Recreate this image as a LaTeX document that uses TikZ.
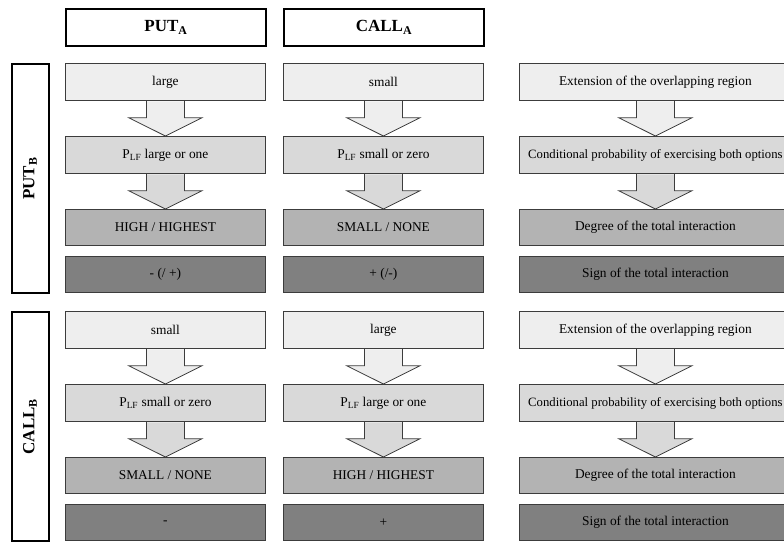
\documentclass[tikz,border=0pt]{standalone}
\usepackage{fontspec}
\setmainfont{Liberation Serif}
\usetikzlibrary{calc}
\definecolor{lvone}{HTML}{EEEEEE}
\definecolor{lvtwo}{HTML}{D9D9D9}
\definecolor{lvthree}{HTML}{B3B3B3}
\definecolor{lvfour}{HTML}{808080}
\definecolor{edgegray}{HTML}{3C3C3C}
\tikzset{
  cell/.style={draw=edgegray, line width=0.8pt, minimum height=#1, inner sep=0pt,
    font=\fontsize{13.4}{15}\selectfont, anchor=north west},
  cellone/.style={cell=37pt, fill=lvone},
  celltwo/.style={cell=37pt, fill=lvtwo},
  cellthree/.style={cell=36pt, fill=lvthree},
  cellfour/.style={cell=36pt, fill=lvfour},
  narrowcol/.style={minimum width=200pt},
  widecol/.style={minimum width=272pt},
  longtext/.style={font=\fontsize{12.7}{15}\selectfont},
  headbox/.style={draw=black, line width=2pt, minimum width=200pt, minimum height=37pt,
    inner sep=0pt, anchor=north west, font=\fontsize{17}{19}\selectfont\bfseries},
  sidebox/.style={draw=black, line width=2pt, minimum width=37pt, inner sep=0pt,
    anchor=north west},
  sidelabel/.style={rotate=90, font=\fontsize{17}{19}\selectfont\bfseries},
  flowedge/.style={draw=edgegray, line width=0.8pt, line join=miter},
}
% block arrow from the bottom of one cell to the top of the next
\newcommand{\flowarr}[3]{%
  \fill[#3] ($(#1.south)+(-19,0.5)$) -- ($(#1.south)+(-19,17)$) -- ($(#1.south)+(-36.5,17)$)
    -- (#2.north) -- ($(#1.south)+(36.5,17)$) -- ($(#1.south)+(19,17)$) -- ($(#1.south)+(19,0.5)$) -- cycle;
  \draw[flowedge] ($(#1.south)+(-19,0)$) -- ($(#1.south)+(-19,17)$) -- ($(#1.south)+(-36.5,17)$)
    -- (#2.north) -- ($(#1.south)+(36.5,17)$) -- ($(#1.south)+(19,17)$) -- ($(#1.south)+(19,0)$);
}
\begin{document}
\begin{tikzpicture}[x=1pt, y=-1pt]
\useasboundingbox (0,0) rectangle (784,542);
\begin{scope}
\clip (0,0) rectangle (784,542);

% column headings
\node[headbox] (hput) at (65,8) {PUT\textsubscript{A}};
\node[headbox] (hcall) at (283,8) {CALL\textsubscript{A}};

% row headings
\node[sidebox, minimum height=229pt] (sput) at (10.5,63) {};
\node[sidelabel] at (sput.center) {PUT\textsubscript{B}};
\node[sidebox, minimum height=229pt] (scall) at (10.5,311) {};
\node[sidelabel] at (scall.center) {CALL\textsubscript{B}};

% upper block: PUT_B
\node[cellone, narrowcol] (a1) at (65,63) {large};
\node[celltwo, narrowcol] (a2) at (65,136) {P\textsubscript{LF} large or one};
\node[cellthree, narrowcol] (a3) at (65,209) {HIGH / HIGHEST};
\node[cellfour, narrowcol] (a4) at (65,256) {- (/ +)};

\node[cellone, narrowcol] (b1) at (283,63) {small};
\node[celltwo, narrowcol] (b2) at (283,136) {P\textsubscript{LF} small or zero};
\node[cellthree, narrowcol] (b3) at (283,209) {SMALL / NONE};
\node[cellfour, narrowcol] (b4) at (283,256) {+ (/-)};

\node[cellone, widecol] (c1) at (519,63) {Extension of the overlapping region};
\node[celltwo, widecol, longtext] (c2) at (519,136) {Conditional probability of exercising both options};
\node[cellthree, widecol] (c3) at (519,209) {Degree of the total interaction};
\node[cellfour, widecol] (c4) at (519,256) {Sign of the total interaction};

% lower block: CALL_B
\node[cellone, narrowcol] (d1) at (65,311) {small};
\node[celltwo, narrowcol] (d2) at (65,384) {P\textsubscript{LF} small or zero};
\node[cellthree, narrowcol] (d3) at (65,457) {SMALL / NONE};
\node[cellfour, narrowcol] (d4) at (65,504) {-};

\node[cellone, narrowcol] (e1) at (283,311) {large};
\node[celltwo, narrowcol] (e2) at (283,384) {P\textsubscript{LF} large or one};
\node[cellthree, narrowcol] (e3) at (283,457) {HIGH / HIGHEST};
\node[cellfour, narrowcol] (e4) at (283,504) {+};

\node[cellone, widecol] (f1) at (519,311) {Extension of the overlapping region};
\node[celltwo, widecol, longtext] (f2) at (519,384) {Conditional probability of exercising both options};
\node[cellthree, widecol] (f3) at (519,457) {Degree of the total interaction};
\node[cellfour, widecol] (f4) at (519,504) {Sign of the total interaction};

% arrows between the stages
\foreach \p in {a,b,c,d,e,f}{
  \flowarr{\p1}{\p2}{lvone}
  \flowarr{\p2}{\p3}{lvtwo}
}
\end{scope}
\end{tikzpicture}
\end{document}
